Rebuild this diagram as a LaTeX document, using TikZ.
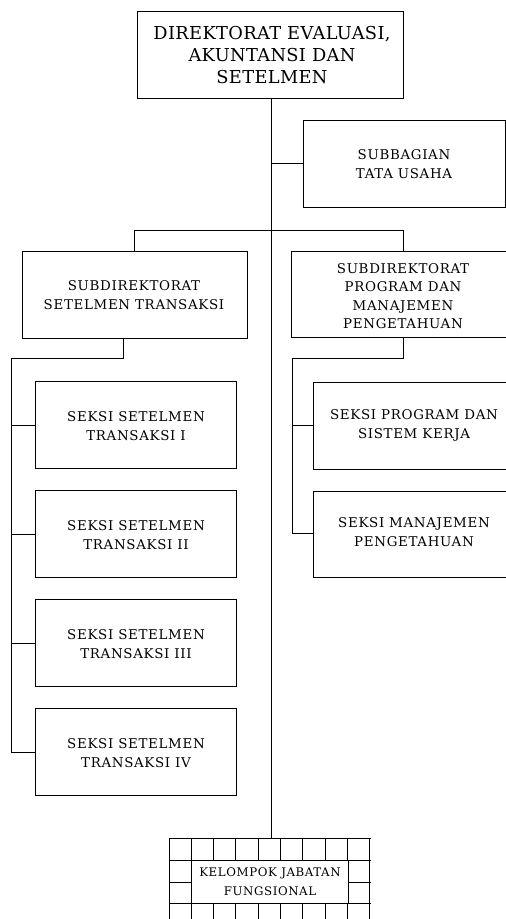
\documentclass[tikz,border=0pt]{standalone}
\usepackage{fontspec}
\setmainfont{DejaVu Serif}
\newfontfamily\boxfont{DejaVu Serif}[LetterSpace=5]
\newfontfamily\topfont{DejaVu Serif}[LetterSpace=2]
\newfontfamily\gridfont{DejaVu Serif}[LetterSpace=5]
\begin{document}
\begin{tikzpicture}[x=1pt,y=-1pt,line width=1pt,
  lbl/.style={align=center,font=\boxfont\fontsize{13.4}{19}\selectfont},
  lbltight/.style={align=center,font=\boxfont\fontsize{13.4}{18.5}\selectfont},
  biglbl/.style={align=center,font=\topfont\fontsize{17.8}{22}\selectfont}]
\useasboundingbox (0,0) rectangle (506,919);
\clip (0,0) rectangle (506,919);
% top
\draw (137,11) rectangle (403,98);
\node[biglbl] (top) at (272,55) {DIREKTORAT EVALUASI,\\AKUNTANSI DAN\\SETELMEN};
\coordinate (tb) at (271,98);
\coordinate (gt) at (271,838);
\draw (tb) -- (gt);
% subbagian
\draw (303,120) rectangle (505,207);
\node[lbl] (sb) at (404,164) {SUBBAGIAN\\TATA USAHA};
\coordinate (sbj) at (271,163);
\coordinate (sbl) at (303,163);
\draw (sbj) -- (sbl);
% bar
\coordinate (b1) at (134,230);
\coordinate (b2) at (403,230);
\draw (134,251) -- (b1) -- (b2) -- (403,251);
% left sub
\draw (22,251) rectangle (247,338);
\node[lbl] (ls) at (134,295) {SUBDIREKTORAT\\SETELMEN TRANSAKSI};
% right sub
\draw (291,251) rectangle (516,337);
\node[lbltight] (rs) at (403,296) {SUBDIREKTORAT\\PROGRAM DAN\\MANAJEMEN\\PENGETAHUAN};
% right connectors
\draw (403,337) -- (403,358) -- (292,358) -- (292,533);
\draw (292,425) -- (313,425);
\draw (292,533) -- (313,533);
\draw (313,382) rectangle (516,469);
\node[lbl] (r1) at (414,425) {SEKSI PROGRAM DAN\\SISTEM KERJA};
\draw (313,491) rectangle (516,577);
\node[lbl] (r2) at (414,532) {SEKSI MANAJEMEN\\PENGETAHUAN};
% left connectors
\draw (123,338) -- (123,358) -- (11,358) -- (11,752);
\foreach \y/\n in {425/I,534/II,643/III,752/IV}{
  \draw (11,\y) -- (35,\y);
  \draw (35,\y-44) rectangle (236,\y+43);
  \node[lbl] at (136,\y+1) {SEKSI SETELMEN\\TRANSAKSI \n};
}
% grid
\foreach \i in {0,...,9}{
  \draw (169+\i*22.33,838) -- (169+\i*22.33,925);
}
\foreach \y in {838,860,882,903}{
  \draw (169,\y) -- (371,\y);
}
\draw[fill=white] (191.3,860) rectangle (348,903);
\node[align=center,font=\gridfont\fontsize{11.8}{19}\selectfont] (kjf) at (270,882) {KELOMPOK JABATAN\\FUNGSIONAL};
\end{tikzpicture}
\end{document}
